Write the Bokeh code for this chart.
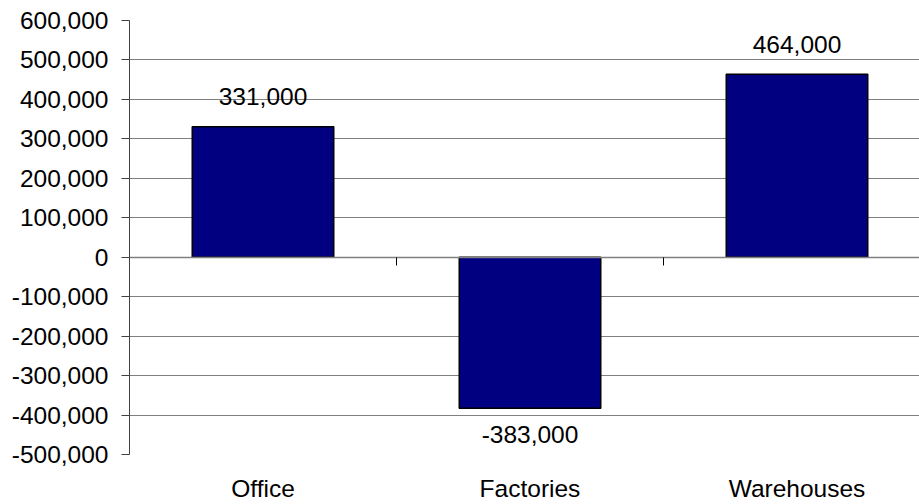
from bokeh.plotting import figure
from bokeh.models import (Range1d, LinearAxis, FixedTicker, NumeralTickFormatter,
                          ColumnDataSource, SingleIntervalTicker, Grid)
from bokeh.core.properties import value
from bokeh.embed import file_html
from bokeh.resources import INLINE

# ---- data ----
categories = ["Office", "Factories", "Warehouses"]
values = [331000, -383000, 464000]
y_min, y_max, y_step = -500000, 600000, 100000

FONT = "Liberation Sans"
FS = "24.5px"

n = len(categories)
xs = [i + 0.5 for i in range(n)]
labels = [f"{v:,}" for v in values]
offsets = [-30 if v >= 0 else 26 for v in values]

src = ColumnDataSource(dict(x=xs, top=values, label=labels, off=offsets))

p = figure(width=919, height=504, output_backend="svg", toolbar_location=None,
           x_range=Range1d(0, 790 / 267), y_range=Range1d(y_min, y_max),
           x_axis_type=None, y_axis_type=None,
           min_border_left=129, min_border_right=0, min_border_top=20,
           min_border_bottom=50)
p.outline_line_color = None
p.background_fill_color = "white"
p.border_fill_color = "white"

# y axis
yax = LinearAxis(ticker=SingleIntervalTicker(interval=y_step),
                 formatter=NumeralTickFormatter(format="0,0"))
yax.major_label_text_font = FONT
yax.major_label_text_font_size = FS
yax.major_label_text_color = "black"
yax.major_tick_out = 8
yax.major_tick_in = 0
yax.minor_tick_line_color = None
yax.axis_line_color = "#404040"
yax.major_tick_line_color = "#404040"
yax.major_label_standoff = 13
p.add_layout(yax, "left")

# category labels axis at bottom
xlab = LinearAxis(ticker=FixedTicker(ticks=xs),
                  major_label_overrides={x: c for x, c in zip(xs, categories)})
xlab.major_label_text_font = FONT
xlab.major_label_text_font_size = FS
xlab.major_label_text_color = "black"
xlab.axis_line_color = None
xlab.major_tick_line_color = None
xlab.minor_tick_line_color = None
xlab.major_tick_out = 0
xlab.major_tick_in = 0
xlab.major_label_standoff = 20
p.add_layout(xlab, "below")

# horizontal gridlines
grid = Grid(dimension=1, ticker=yax.ticker, grid_line_color="#808080", grid_line_width=1)
p.add_layout(grid)

# bars
p.vbar(x="x", top="top", bottom=0, width=0.53, source=src,
       fill_color="#000080", line_color="black", line_width=1.5)

# zero axis with category boundary ticks (placed in the top panel, ticks pointing down)
zax = LinearAxis(ticker=FixedTicker(ticks=list(range(1, n))), fixed_location=0)
zax.major_label_text_color = None
zax.major_label_text_font_size = "0px"
zax.major_label_standoff = 0
zax.axis_line_color = "#808080"
zax.axis_line_width = 1.5
zax.major_tick_line_color = "black"
zax.major_tick_out = 0
zax.major_tick_in = 8
zax.minor_tick_line_color = None
p.add_layout(zax, "above")

# data labels
p.text(x="x", y="top", text="label", source=src, y_offset="off",
       text_align="center", text_baseline="alphabetic",
       text_font=value(FONT), text_font_size=value(FS), text_color="black")

open("out.html", "w").write(file_html(p, INLINE))
